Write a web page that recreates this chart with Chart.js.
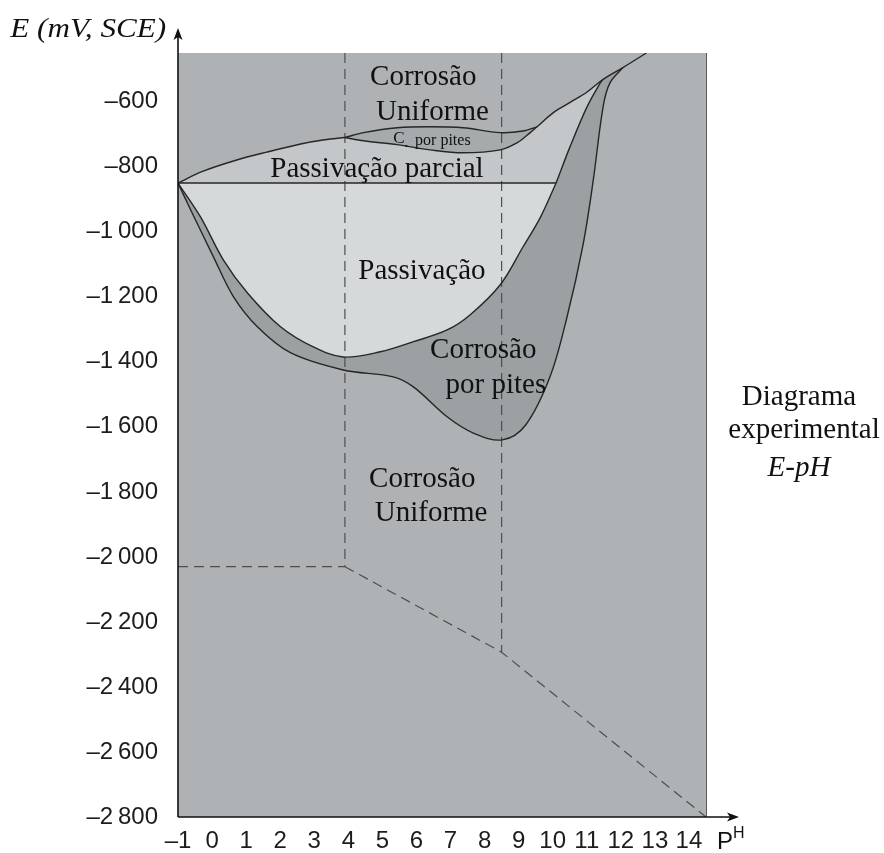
<!DOCTYPE html>
<html lang="pt">
<head>
<meta charset="utf-8">
<title>Diagrama experimental E-pH</title>
<script src="https://cdn.jsdelivr.net/npm/chart.js@4.4.1/dist/chart.umd.min.js"></script>
<style>
  html, body { margin: 0; padding: 0; background: #fff; }
  #wrap { width: 884px; height: 853px; }
</style>
</head>
<body>
<div id="wrap"><canvas id="epH" width="884" height="853"></canvas></div>
<script>
const X_TICKS = [-1, 0, 1, 2, 3, 4, 5, 6, 7, 8, 9, 10, 11, 12, 13, 14];
const Y_TICKS = [-2800, -2600, -2400, -2200, -2000, -1800, -1600, -1400, -1200, -1000, -800, -600];

// limite superior da passivação parcial (lado esquerdo)
const ARC = [[-1, -850], [-0.3, -815], [0.7, -780], [1.6, -755], [2.6, -730], [3.3, -717], [3.9, -710]];
// lente "C. por pites"
const LENS_UP  = [[3.9, -710], [4.45, -695], [5.44, -680], [6.4, -677], [7.37, -680], [8.46, -695], [9.13, -690], [9.54, -677]];
const LENS_LOW = [[3.9, -710], [4.45, -720], [5.44, -732], [6.4, -748], [7.37, -757], [8.46, -748], [8.96, -726], [9.34, -695], [9.54, -677]];
// linha superior até ao canto
const TOP_LINE = [[9.54, -677], [10.01, -634], [10.51, -602], [11.01, -570], [11.48, -531], [12.06, -495], [12.75, -450]];
// fronteira interior direita (acima de -850)
const INNER_R = [[10.1, -850], [10.51, -738], [11.01, -615], [11.39, -543], [11.48, -531]];
// linha horizontal da passivação
const H_LINE = [[-1, -850], [10.1, -850]];
// fundo da zona de passivação
const BOWL = [[-1, -850], [-0.34, -954], [0.33, -1086], [1.04, -1188], [2.01, -1292], [2.97, -1354], [3.85, -1385],
  [4.94, -1369], [5.91, -1338], [6.9, -1302], [7.58, -1255], [8.46, -1163], [9.13, -1046], [9.63, -957], [10.1, -850]];
// fronteira exterior da corrosão por pites
const OUTER = [[-1, -850], [-0.63, -932], [0.04, -1077], [0.63, -1200], [1.33, -1292], [2.3, -1372], [3.85, -1425],
  [5.32, -1446], [5.91, -1477], [6.9, -1569], [7.67, -1619], [8.52, -1640], [9.2, -1595], [9.92, -1446],
  [10.42, -1262], [10.89, -1040], [11.18, -849], [11.48, -615], [11.68, -542], [12.06, -495]];
// linhas tracejadas
const DASH_H    = [[-1, -2030], [3.9, -2030]];
const DASH_V1   = [[3.9, -450], [3.9, -2030]];
const DASH_V2   = [[8.5, -450], [8.5, -2293]];
const DASH_DIAG = [[3.9, -2030], [8.5, -2293], [14.5, -2800]];

// ---- estilo ----
const INK = '#262626';
const DASH = '#4e4e4e';
const C_BASE = '#aeb2b4', C_BAND = '#c3c7c9', C_LENS = '#a5aaac', C_PASS = '#d6d9da', C_PIT = '#9ba0a2';
const SERIF = '"Liberation Serif", "DejaVu Serif", serif';
const SANS = '"Liberation Sans", Arial, sans-serif';

const rev = a => a.slice().reverse();
const join = (...parts) => parts.flat();

const AREAS = [
  [join(OUTER, rev(TOP_LINE.slice(4, 6)), rev(INNER_R), rev(H_LINE)), C_PIT, 10],
  [join(BOWL, rev(H_LINE)), C_PASS, 9],
  [join(ARC, LENS_LOW, TOP_LINE.slice(0, 5), rev(INNER_R), rev(H_LINE)), C_BAND, 8],
  [join(LENS_UP, rev(LENS_LOW)), C_LENS, 7],
];
const CURVES = [ARC, LENS_UP, LENS_LOW, TOP_LINE, INNER_R, H_LINE, BOWL, OUTER];
const DASHES = [DASH_H, DASH_V1, DASH_V2, DASH_DIAG];

const datasets = [
  ...AREAS.map(([data, color, order]) => ({
    data, order, showLine: true, fill: 'shape', backgroundColor: color,
    borderColor: 'transparent', borderWidth: 1, tension: 0.35, pointRadius: 0,
  })),
  ...DASHES.map(data => ({
    data, order: 2, showLine: true, fill: false, borderColor: DASH,
    borderWidth: 1.2, borderDash: [10, 6], tension: 0, pointRadius: 0,
  })),
  ...CURVES.map(data => ({
    data, order: 1, showLine: true, fill: false, borderColor: INK,
    borderWidth: 1.4, tension: 0.35, pointRadius: 0,
  })),
];

// rótulos das regiões, em coordenadas do gráfico (linha de base)
const REGION_LABELS = [
  ['Corrosão', 6.2, -548],
  ['Uniforme', 6.47, -655],
  ['Passivação parcial', 4.84, -830],
  ['Passivação', 6.16, -1145],
  ['Corrosão', 7.96, -1388],
  ['por pites', 8.33, -1495],
  ['Corrosão', 6.17, -1785],
  ['Uniforme', 6.43, -1889],
];

const fmt = v => {
  const a = Math.abs(v);
  const s = a >= 1000 ? Math.floor(a / 1000) + '\u2009' + String(a % 1000).padStart(3, '0') : String(a);
  return (v < 0 ? '\u2013' : '') + s;
};

function arrow(ctx, x, y, dx, dy) {
  const len = 12, hw = 4.5;
  const px = -dy, py = dx;
  ctx.beginPath();
  ctx.moveTo(x, y);
  ctx.lineTo(x - dx * len + px * hw, y - dy * len + py * hw);
  ctx.lineTo(x - dx * len * 0.75, y - dy * len * 0.75);
  ctx.lineTo(x - dx * len - px * hw, y - dy * len - py * hw);
  ctx.closePath();
  ctx.fill();
}

const decor = {
  id: 'decor',
  beforeDraw(chart) {
    const { ctx, chartArea: a } = chart;
    ctx.save();
    ctx.fillStyle = C_BASE;
    ctx.fillRect(a.left, a.top, a.right - a.left, a.bottom - a.top);
    ctx.restore();
  },
  afterDatasetsDraw(chart) {
    const { ctx, scales: { x, y } } = chart;
    ctx.save();
    ctx.fillStyle = '#111';
    ctx.textAlign = 'center';
    ctx.textBaseline = 'alphabetic';
    ctx.font = '29px ' + SERIF;
    REGION_LABELS.forEach(([t, ph, e]) => ctx.fillText(t, x.getPixelForValue(ph), y.getPixelForValue(e)));
    // "C. por pites" pequeno
    ctx.textAlign = 'left';
    ctx.font = '17px ' + SERIF;
    const cx = x.getPixelForValue(5.32), cy = y.getPixelForValue(-728);
    ctx.fillText('C', cx, cy);
    ctx.fillText('.', cx + 11, cy + 4);
    ctx.font = '16px ' + SERIF;
    ctx.fillText('por pites', x.getPixelForValue(5.96), y.getPixelForValue(-733));
    ctx.restore();
  },
  afterDraw(chart) {
    const { ctx, chartArea: a } = chart;
    ctx.save();
    // borda direita da área cinzenta
    ctx.strokeStyle = '#5a5a5a';
    ctx.lineWidth = 1;
    ctx.beginPath();
    ctx.moveTo(a.right + 0.5, a.top);
    ctx.lineTo(a.right + 0.5, a.bottom);
    ctx.stroke();
    // eixos com setas
    ctx.strokeStyle = '#111';
    ctx.fillStyle = '#111';
    ctx.lineWidth = 1.6;
    ctx.beginPath();
    ctx.moveTo(a.left, a.bottom);
    ctx.lineTo(a.left, 36);
    ctx.moveTo(a.left, a.bottom);
    ctx.lineTo(730, a.bottom);
    ctx.stroke();
    arrow(ctx, a.left, 28, 0, -1);
    arrow(ctx, 739, a.bottom, 1, 0);
    // título do eixo y
    ctx.textAlign = 'right';
    ctx.textBaseline = 'alphabetic';
    ctx.font = 'italic 28px ' + SERIF;
    ctx.translate(166, 37);
    ctx.scale(1.11, 1);
    ctx.fillText('E (mV, SCE)', 0, 0);
    ctx.setTransform(1, 0, 0, 1, 0, 0);
    // pH
    ctx.textAlign = 'left';
    ctx.font = '24px ' + SANS;
    ctx.fillText('P', 717, 849);
    ctx.font = '16px ' + SANS;
    ctx.fillText('H', 733, 838);
    // legenda à direita
    ctx.textAlign = 'center';
    ctx.font = '29px ' + SERIF;
    ctx.fillText('Diagrama', 799, 405);
    ctx.fillText('experimental', 804, 438);
    ctx.font = 'italic 29px ' + SERIF;
    ctx.fillText('E-pH', 799, 476);
    ctx.restore();
  },
};

new Chart(document.getElementById('epH'), {
  type: 'scatter',
  data: { datasets },
  options: {
    responsive: false,
    animation: false,
    devicePixelRatio: 1,
    events: [],
    layout: { padding: { top: 53, right: 178, left: 0, bottom: 0 } },
    plugins: { legend: { display: false }, tooltip: { enabled: false } },
    scales: {
      x: {
        type: 'linear', min: -1, max: 14.5,
        grid: { display: false, drawTicks: false }, border: { display: false },
        afterBuildTicks: s => { s.ticks = X_TICKS.map(value => ({ value })); },
        afterFit: s => { s.height = 36; },
        ticks: {
          autoSkip: false, maxRotation: 0, padding: 10, color: '#1c1c1c',
          font: { family: SANS, size: 24 },
          callback: v => fmt(v),
        },
      },
      y: {
        type: 'linear', min: -2800, max: -450,
        grid: { display: false, drawTicks: false }, border: { display: false },
        afterBuildTicks: s => { s.ticks = Y_TICKS.map(value => ({ value })); },
        afterFit: s => { s.width = 178; },
        ticks: {
          autoSkip: false, padding: 20, color: '#1c1c1c',
          font: { family: SANS, size: 24 },
          callback: v => fmt(v),
        },
      },
    },
  },
  plugins: [decor],
});
</script>
</body>
</html>
